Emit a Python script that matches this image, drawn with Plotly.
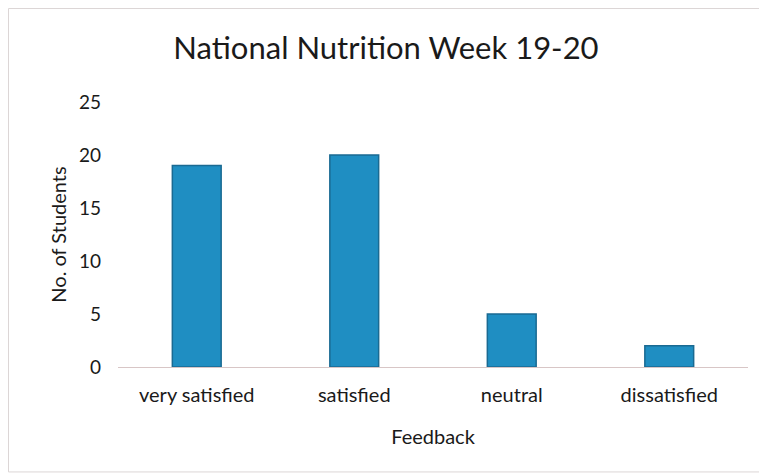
import plotly.graph_objects as go

categories = ["very satisfied", "satisfied", "neutral", "dissatisfied"]
students = [19, 20, 5, 2]
y_ticks = [0, 5, 10, 15, 20, 25]

FONT = "Lato"
TXT = "#1a1a1a"

fig = go.Figure()
fig.add_trace(go.Bar(
    x=categories, y=students,
    marker=dict(color="#1f8ec2", line=dict(color="#1a6a92", width=1.5)),
    width=0.31,
    hoverinfo="x+y",
))

fig.update_layout(
    width=759, height=467,
    margin=dict(l=110, r=19, t=94, b=108),
    paper_bgcolor="white", plot_bgcolor="white",
    showlegend=False,
    title=dict(text="National Nutrition Week 19-20", x=0.498, xanchor="center",
               y=0.914, yanchor="middle",
               font=dict(family=FONT, size=31, color=TXT)),
    font=dict(family=FONT, color=TXT),
    xaxis=dict(showgrid=False, showline=False, zeroline=False, ticks="",
               ticklabelstandoff=14,
               tickfont=dict(size=20, color=TXT),
               title=dict(text="Feedback", font=dict(size=20, color=TXT), standoff=24)),
    yaxis=dict(range=[0, 25], tickvals=y_ticks, showgrid=False, zeroline=True,
               zerolinecolor="#d8c6c6", zerolinewidth=1.2, showline=False, ticks="",
               ticklabelstandoff=16,
               tickfont=dict(size=19, color=TXT),
               title=dict(text="No. of Students", font=dict(size=20, color=TXT), standoff=6)),
    shapes=[dict(type="rect", xref="paper", yref="paper", layer="below",
                 x0=-0.1738, x1=1.0254, y0=-0.396, y1=1.3528,
                 line=dict(color="#dcd6d6", width=1), fillcolor="rgba(0,0,0,0)")],
)

fig.write_html("out.html")
